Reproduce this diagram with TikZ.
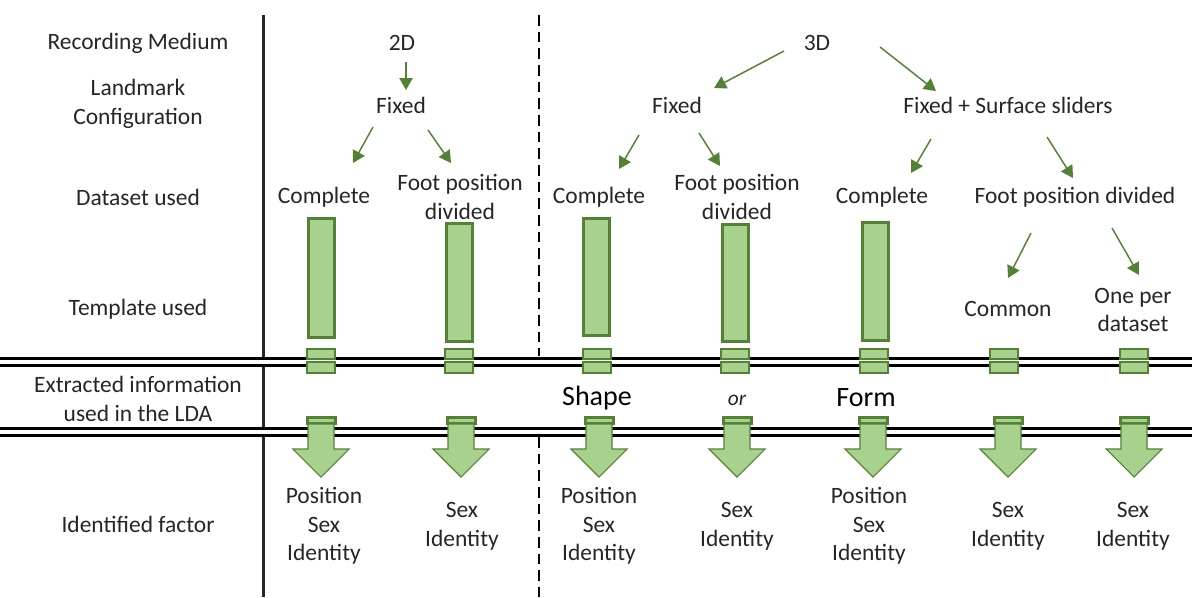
\documentclass[tikz,border=0pt]{standalone}
\usepackage{fontspec}
\setmainfont{Carlito}
\usepackage{xcolor}
\usepackage{tikz}
\usetikzlibrary{
	arrows.meta     % Per le punte a triangolo dei rami
}
\definecolor{leafgreen}{HTML}{A9D18E}
\definecolor{darkgreen}{HTML}{548235}
\definecolor{inkgray}{HTML}{262626}

\begin{document}
\begin{tikzpicture}[x=0.75pt, y=-0.75pt,
		lbl/.style={font=\fontsize{17.6}{21.5}\selectfont, text=inkgray, align=center, inner sep=0pt},
		big/.style={font=\fontsize{21}{25}\selectfont, text=black, inner sep=0pt},
		branch/.style={-{Triangle[length=9pt,width=10pt]}, darkgreen, line width=1.1pt},
		bar/.style={draw=darkgreen, fill=leafgreen, line width=2.25pt},
		slider/.style={draw=darkgreen, fill=leafgreen, line width=1.5pt},
		blockarrow/.style={draw=darkgreen, fill=leafgreen, line width=0.8pt, line join=miter},
		dline/.style={draw=black, double=white, double distance=3pt, line width=2.25pt}]
		% Dimensioni della pagina
		\fill[white] (0,0) rectangle (1192,597);
		\useasboundingbox (0,0) rectangle (1192,597);
		
		% --- Etichette a sinistra ---
		\node[lbl] (lRec) at (138,43) {Recording Medium};
		\node[lbl] (lLand) at (138,104) {Landmark\\Configuration};
		\node[lbl] (lData) at (138,197) {Dataset used};
		\node[lbl] (lTempl) at (138,309) {Template used};
		\node[lbl] (lExtr) at (138,399) {Extracted information\\used in the LDA};
		\node[lbl] (lIdent) at (138,524) {Identified factor};
		
		% --- Separatori verticali ---
		\draw[line width=2.25pt, inkgray] (263,15) -- (263,597);
		\draw[line width=1.5pt, dash pattern=on 8pt off 4.5pt] (539,15) -- (539,356);
		\draw[line width=1.5pt, dash pattern=on 8pt off 4.5pt] (539,437) -- (539,597);
		
		% --- Separatori orizzontali doppi ---
		\draw[dline] (0,361.5) -- (1192,361.5);
		\draw[dline] (0,432) -- (1192,432);
		
		% --- Albero: mezzo, configurazione, dataset ---
		\node[lbl] (d2) at (402,43) {2D};
		\node[lbl] (fix2) at (401,105) {Fixed};
		\node[lbl] (d3) at (817,43) {3D};
		\node[lbl] (fix3) at (677,105) {Fixed};
		\node[lbl] (surf) at (1008,105) {Fixed + Surface sliders};
		\node[lbl] (compA) at (324,197) {Complete};
		\node[lbl] (footA) at (460,197) {Foot position\\divided};
		\node[lbl] (compB) at (599,197) {Complete};
		\node[lbl] (footB) at (737,197) {Foot position\\divided};
		\node[lbl] (compC) at (882,197) {Complete};
		\node[lbl] (footC) at (1075,197) {Foot position divided};
		\node[lbl] (common) at (1008,309) {Common};
		\node[lbl] (oneper) at (1133,310) {One per\\dataset};
		
		% Rami
		\draw[branch] ([shift={(4,19)}]d2.center) -- ([shift={(5,-15)}]fix2.center);
		\draw[branch] ([shift={(-28,22)}]fix2.center) -- ([shift={(29,-34)}]compA.center);
		\draw[branch] ([shift={(27,25)}]fix2.center) -- ([shift={(-9,-34)}]footA.center);
		\draw[branch] ([shift={(-33,8)}]d3.center) -- ([shift={(37,-17)}]fix3.center);
		\draw[branch] ([shift={(63,4)}]d3.center) -- ([shift={(-72,-14)}]surf.center);
		\draw[branch] ([shift={(-38,30)}]fix3.center) -- ([shift={(20,-28)}]compB.center);
		\draw[branch] ([shift={(22,28)}]fix3.center) -- ([shift={(-17,-31)}]footB.center);
		\draw[branch] ([shift={(-77,34)}]surf.center) -- ([shift={(29,-24)}]compC.center);
		\draw[branch] ([shift={(39,32)}]surf.center) -- ([shift={(-2,-19)}]footC.center);
		\draw[branch] ([shift={(-44,36)}]footC.center) -- ([shift={(0,-31)}]common.center);
		\draw[branch] ([shift={(37,31)}]footC.center) -- ([shift={(6,-35)}]oneper.center);
		
		% --- Template (barre) ---
		\foreach \x/\top/\bot in {321/218/337, 459/223/341, 596/218/335, 735/224/341, 875/222/340}
		\draw[bar] (\x-13,\top) rectangle (\x+13,\bot);
		
		% Cursori sulla prima linea doppia
		\foreach \x in {321,459,597,735,874,1004,1134} {
			\draw[slider] (\x-14,349) rectangle (\x+14,359);
			\draw[slider] (\x-14,362) rectangle (\x+14,373);
		}
		
		% --- Informazione estratta ---
		\node[big] (shape) at (597,398) {Shape};
		\node[lbl, font=\fontsize{16}{19}\selectfont\itshape] (orword) at (737,400) {or};
		\node[big] (form) at (866,398) {Form};
		
		% Frecce a blocco sulla seconda linea doppia
		\foreach \x in {321,461,599,737,873,1008,1134} {
			\draw[slider, line width=2.25pt] (\x-14,417) rectangle (\x+14,423);
			\draw[blockarrow] (\x-13,424) -- (\x-13,449) -- (\x-28,449) -- (\x,477)
			-- (\x+28,449) -- (\x+13,449) -- (\x+13,424) -- cycle;
		}
		
		% --- Fattori identificati ---
		\node[lbl] (idA) at (324,526) {Position\\Sex\\Identity};
		\node[lbl] (idB) at (462,526) {Sex\\Identity};
		\node[lbl] (idC) at (599,526) {Position\\Sex\\Identity};
		\node[lbl] (idD) at (737,526) {Sex\\Identity};
		\node[lbl] (idE) at (869,526) {Position\\Sex\\Identity};
		\node[lbl] (idF) at (1008,526) {Sex\\Identity};
		\node[lbl] (idG) at (1133,526) {Sex\\Identity};
	\end{tikzpicture}
\end{document}
